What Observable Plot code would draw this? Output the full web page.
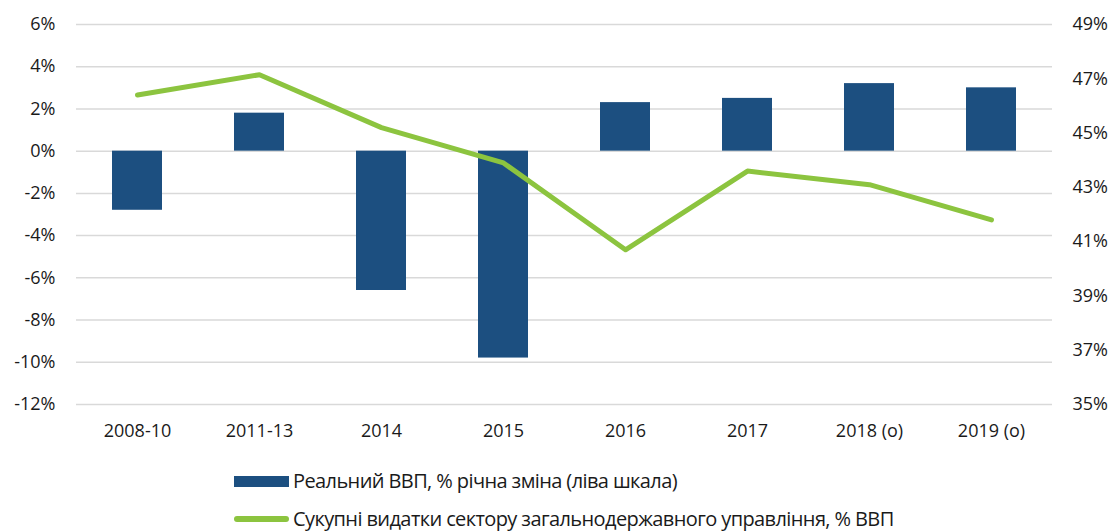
<!DOCTYPE html>
<html>
<head>
<meta charset="utf-8">
<script src="https://cdn.jsdelivr.net/npm/d3@7"></script>
<script src="https://cdn.jsdelivr.net/npm/@observablehq/plot@0.6"></script>
<style>
  html, body { margin: 0; padding: 0; background: #fff; }
  body { width: 1112px; height: 532px; overflow: hidden; font-family: "Open Sans", "Noto Sans", sans-serif; color: #1a1a1a; }
  #chart svg { display: block; }
  .legend { position: relative; }
  .item { position: absolute; left: 234px; display: flex; align-items: center; font-size: 20px; letter-spacing: -0.6px; height: 24px; line-height: 24px; white-space: nowrap; }
  .swatch-bar { width: 55px; height: 11px; background: #1c4f80; margin-right: 4px; }
  .swatch-line { width: 55px; height: 6px; background: #8cc43f; margin-right: 4px; border-radius: 3px; }
</style>
</head>
<body>
<div id="chart"></div>
<div class="legend">
  <div class="item" style="top:24px"><span class="swatch-bar"></span><span id="l1"></span></div>
  <div class="item" style="top:62px"><span class="swatch-line"></span><span id="l2"></span></div>
</div>
<script>
const categories = ["2008-10", "2011-13", "2014", "2015", "2016", "2017", "2018 (o)", "2019 (o)"];
const gdpGrowth = [-2.8, 1.8, -6.6, -9.8, 2.3, 2.5, 3.2, 3.0];
const govSpending = [46.4, 47.15, 45.2, 43.9, 40.7, 43.6, 43.1, 41.8];
const leftTicks = [-12, -10, -8, -6, -4, -2, 0, 2, 4, 6];
const rightTicks = [35, 37, 39, 41, 43, 45, 47, 49];
const seriesNames = [
  "Реальний ВВП, % річна зміна (ліва шкала)",
  "Сукупні видатки сектору загальнодержавного управління, % ВВП"
];

const leftMin = leftTicks[0], leftMax = leftTicks[leftTicks.length - 1];
const rightMin = rightTicks[0], rightMax = rightTicks[rightTicks.length - 1];
const toLeft = v => leftMin + (v - rightMin) * (leftMax - leftMin) / (rightMax - rightMin);

const rows = categories.map((c, i) => ({cat: c, gdp: gdpGrowth[i], spend: govSpending[i]}));

const chart = Plot.plot({
  width: 1112,
  height: 445,
  marginLeft: 76,
  marginRight: 60,
  marginTop: 24,
  marginBottom: 41,
  style: {fontFamily: "'Open Sans', 'Noto Sans', sans-serif", fontSize: "18px", color: "#1a1a1a"},
  x: {domain: categories, paddingInner: 0.59, paddingOuter: 0.295, label: null},
  y: {domain: [leftMin, leftMax], label: null},
  marks: [
    Plot.gridY(leftTicks, {stroke: "#d9d9d9", strokeOpacity: 1, strokeWidth: 1.5}),
    Plot.axisY(leftTicks, {anchor: "left", tickSize: 0, tickPadding: 21, tickFormat: d => d + "%", label: null}),
    Plot.axisY(rightTicks.map(toLeft), {anchor: "right", tickSize: 0, tickPadding: 20,
      tickFormat: (d, i) => rightTicks[i] + "%", label: null}),
    Plot.axisX({anchor: "bottom", tickSize: 0, tickPadding: 20, label: null}),
    Plot.barY(rows, {x: "cat", y: "gdp", fill: "#1c4f80"}),
    Plot.line(rows, {x: "cat", y: d => toLeft(d.spend), stroke: "#8cc43f", strokeWidth: 5, strokeLinejoin: "round"})
  ]
});
document.getElementById("chart").appendChild(chart);
document.getElementById("l1").textContent = seriesNames[0];
document.getElementById("l2").textContent = seriesNames[1];
</script>
</body>
</html>
